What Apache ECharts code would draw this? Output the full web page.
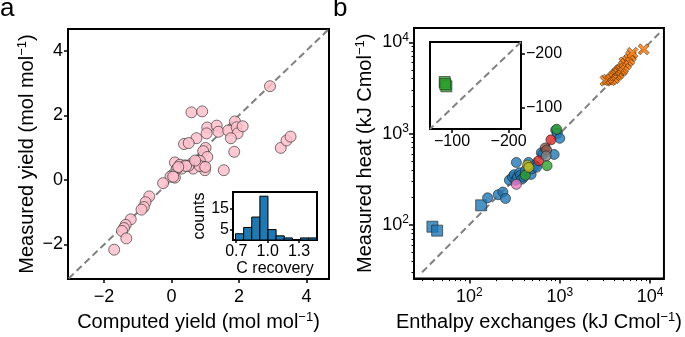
<!DOCTYPE html>
<html><head><meta charset="utf-8">
<script src="https://cdn.jsdelivr.net/npm/echarts@6/dist/echarts.min.js"></script>
<style>html,body{margin:0;padding:0;background:#fff}#c{width:685px;height:337px}</style>
</head><body><div id="c"></div>
<script>
// ---------- Panel a data ----------
const yieldPoints = [
 [2.92,2.90],[0.59,2.09],[0.91,2.12],[1.88,1.81],[1.06,1.62],[1.34,1.68],[1.39,1.49],[1.04,1.44],
 [1.68,1.53],[1.93,1.63],[1.96,1.44],[2.11,1.66],[1.76,1.29],[0.74,1.29],[0.37,1.11],[0.51,1.14],
 [1.01,0.99],[0.94,0.89],[1.86,0.87],[1.06,0.71],[3.24,0.99],[3.41,1.22],[3.53,1.34],[1.55,0.30],
 [0.10,0.54],[0.25,0.47],[0.40,0.45],[0.59,0.50],[0.74,0.54],[0.84,0.59],[0.94,0.40],[0.99,0.30],
 [0.64,0.35],[0.50,0.43],[0.30,0.35],[0.15,0.33],[0.03,0.15],[-0.03,0.10],[0.10,0.07],[-0.25,-0.10],
 [-0.66,-0.51],[-0.77,-0.69],[-0.82,-0.84],[-0.89,-0.92],[-1.21,-1.22],[-1.36,-1.39],[-1.41,-1.49],
 [-1.47,-1.58],[-1.34,-1.81],[-1.70,-2.16],[0.43,0.43],[0.84,0.43],[0.70,0.60],[1.00,0.40],[0.20,0.40],[0.05,0.10]
];
const aTicks = [-2, 0, 2, 4];
const aRange = [-3.07, 4.67];
const aDiagonal = [-3.05, 4.64];

// inset histogram (C recovery)
const histEdges = [0.693,0.7705,0.848,0.9255,1.003,1.0805,1.158,1.2355,1.313,1.3905,1.468];
const histCounts = [3, 6, 11, 21, 5, 2, 1, 0, 1, 1];
const histXTicks = [0.7, 1.0, 1.3];
const histYTicks = [5, 15];
const histXRange = [0.669, 1.471];
const histYRange = [0, 23];

// ---------- Panel b data ----------
const blueCircles = [[159,197],[208,213],[235,228],[251,194],[277,308],[300,333],[313,354],[326,308],[331,482],
 [340,333],[359,371],[368,348],[380,316],[400,333],[416,393],[451,482],[482,356],[490,410],[531,444],[553,427],
 [625,615],[650,592],[866,590],[902,1089],[940,1003],[1000,887]];
const blueSquares = [[39,95],[44,86],[135,163]];
const redCircles = [[798,853],[586,502]];
const brownCircles = [[690,695],[715,660]];
const greyCircles = [[707,568]];
const greenCircles = [[724,444],[925,1114],[416,348]];
const oliveCircles = [[440,451],[455,425]];
const pinkCircles = [[331,277]];
const orangeCrosses = [[3200,3800],[3400,3900],[3600,3850],[3750,3950],[3900,4180],[4000,4050],[4100,4350],
 [4240,4530],[4300,4400],[4400,4700],[4500,4600],[4595,4910],[4700,5000],[4850,4950],[4990,5200],[5100,5500],
 [5200,6030],[5400,5800],[5650,6270],[5900,6500],[6120,7080],[6380,7690],[8475,8400]];
const bMajorTicks = [100, 1000, 10000];
const bMinorTicks = [30,40,50,60,70,80,90,200,300,400,500,600,700,800,900,2000,3000,4000,5000,6000,7000,8000,9000];
const bXRange = [24.4, 14200];
const bYRange = [25.6, 14400];
const bDiagonal = [30, 12600];

// inset of panel b
const insetSquares = [[-87,-148],[-90,-140],[-88,-144]];
const insetTicks = [-100, -200];
const insetRange = [-222, -61];

// ---------- styling ----------
const FONT = 'Liberation Sans';
const minus = v => String(v).replace('-', '\u2212');
const supRich = (size) => ({ s: { fontSize: size, fontFamily: FONT, color: '#000', padding: [0,0,9,0] } });

function axisBase(extra) {
  const o = {
    type: 'value', splitLine: { show: false },
    axisLine: { show: true, onZero: false, lineStyle: { color: '#000', width: 2 } },
    axisTick: { show: true, length: 4, lineStyle: { color: '#000', width: 1.5 } },
    axisLabel: { color: '#000', fontSize: 18, fontFamily: FONT, margin: 6 },
    nameLocation: 'middle',
    nameTextStyle: { color: '#000', fontSize: 20, fontFamily: FONT }
  };
  for (const k in extra) {
    if (o[k] && typeof o[k] === 'object' && !Array.isArray(o[k]) && typeof extra[k] === 'object' && !Array.isArray(extra[k]))
      o[k] = Object.assign({}, o[k], extra[k]);
    else o[k] = extra[k];
  }
  return o;
}

const powFmt = v => '{b|10}{s|' + Math.round(Math.log10(v)) + '}';
const powRich = { b: { fontSize: 18, fontFamily: FONT, color: '#000' }, s: { fontSize: 12, fontFamily: FONT, color: '#000', padding: [0,0,9,0] } };

const xAxes = [
  axisBase({ gridIndex: 0, min: aRange[0], max: aRange[1],
    axisLabel: { customValues: aTicks, formatter: minus, margin: 9 },
    axisTick: { customValues: aTicks },
    name: 'Computed yield (mol mol{s|\u22121})', nameGap: 25,
    nameTextStyle: { rich: supRich(13) } }),
  axisBase({ gridIndex: 1, min: histXRange[0], max: histXRange[1],
    axisLabel: { customValues: histXTicks, formatter: v => v.toFixed(1), fontSize: 16, margin: 4 },
    axisTick: { customValues: histXTicks, length: 3 },
    name: 'C recovery', nameGap: 20, nameTextStyle: { fontSize: 16 } }),
  axisBase({ gridIndex: 2, type: 'log', logBase: 10, min: bXRange[0], max: bXRange[1],
    axisLabel: { customValues: bMajorTicks, formatter: powFmt, rich: powRich, margin: 8 },
    axisTick: { customValues: bMajorTicks, length: 5 },
    name: 'Enthalpy exchanges (kJ Cmol{s|\u22121})', nameGap: 27,
    nameTextStyle: { rich: supRich(13) } }),
  axisBase({ gridIndex: 2, type: 'log', logBase: 10, min: bXRange[0], max: bXRange[1], position: 'bottom',
    axisLine: { show: false }, axisLabel: { show: false },
    axisTick: { customValues: bMinorTicks, length: 2.5, lineStyle: { width: 1 } } }),
  axisBase({ gridIndex: 3, min: insetRange[0], max: insetRange[1], inverse: true,
    axisLabel: { customValues: insetTicks, formatter: minus, fontSize: 16, margin: 5 },
    axisTick: { customValues: insetTicks } })
];

const yAxes = [
  axisBase({ gridIndex: 0, min: aRange[0], max: aRange[1],
    axisLabel: { customValues: aTicks, formatter: minus, margin: 5 },
    axisTick: { customValues: aTicks },
    name: 'Measured yield (mol mol{s|\u22121})', nameGap: 30,
    nameTextStyle: { rich: supRich(13) } }),
  axisBase({ gridIndex: 1, min: histYRange[0], max: histYRange[1],
    axisLabel: { customValues: histYTicks, fontSize: 16, margin: 4 },
    axisTick: { customValues: histYTicks, length: 3 },
    name: 'counts', nameGap: 24, nameTextStyle: { fontSize: 16 } }),
  axisBase({ gridIndex: 2, type: 'log', logBase: 10, min: bYRange[0], max: bYRange[1],
    axisLabel: { customValues: bMajorTicks, formatter: powFmt, rich: powRich, margin: 5 },
    axisTick: { customValues: bMajorTicks, length: 5 },
    name: 'Measured heat (kJ Cmol{s|\u22121})', nameGap: 38,
    nameTextStyle: { rich: supRich(13) } }),
  axisBase({ gridIndex: 2, type: 'log', logBase: 10, min: bYRange[0], max: bYRange[1], position: 'left',
    axisLine: { show: false }, axisLabel: { show: false },
    axisTick: { customValues: bMinorTicks, length: 2.5, lineStyle: { width: 1 } } }),
  axisBase({ gridIndex: 3, min: insetRange[0], max: insetRange[1], inverse: true, position: 'right',
    axisLabel: { customValues: insetTicks, formatter: minus, fontSize: 16, margin: 5 },
    axisTick: { customValues: insetTicks } })
];

const gridStyle = { show: true, borderColor: '#000', borderWidth: 2, backgroundColor: '#fff', containLabel: false };
const grids = [
  Object.assign({ left: 68, top: 29, width: 261, height: 258 }, gridStyle),
  Object.assign({ left: 233, top: 192, width: 84, height: 48, z: 5 }, gridStyle),
  Object.assign({ left: 414, top: 28, width: 260, height: 259 }, gridStyle),
  Object.assign({ left: 430, top: 42, width: 91, height: 87, z: 5 }, gridStyle)
];

const dash = { type: [7, 4], color: '#808080', width: 2 };
const diag = (xi, yi, ends) => ({ type: 'line', xAxisIndex: xi, yAxisIndex: yi, data: ends.map(v => [v, v]),
  symbol: 'none', silent: true, lineStyle: dash, z: 1, animation: false });

const circ = (data, color, size) => ({ type: 'scatter', xAxisIndex: 2, yAxisIndex: 2, data, symbol: 'circle',
  symbolSize: size || 10, itemStyle: { color, opacity: 0.8, borderColor: '#222', borderWidth: 0.8 }, z: 3 });

const XPATH = 'path://M0,2L2,0L5,3L8,0L10,2L7,5L10,8L8,10L5,7L2,10L0,8L3,5Z';

const option = {
  animation: false,
  backgroundColor: '#fff',
  grid: grids,
  xAxis: xAxes,
  yAxis: yAxes,
  graphic: [
    { type: 'text', left: 0, top: -4, style: { text: 'a', font: '26px "Liberation Sans"', fill: '#000' } },
    { type: 'text', left: 333, top: -4, style: { text: 'b', font: '26px "Liberation Sans"', fill: '#000' } }
  ],
  series: [
    diag(0, 0, aDiagonal),
    { type: 'scatter', xAxisIndex: 0, yAxisIndex: 0, data: yieldPoints, symbolSize: 11,
      itemStyle: { color: '#ffc0cb', opacity: 0.85, borderColor: '#333', borderWidth: 0.8 }, z: 3 },
    { type: 'custom', xAxisIndex: 1, yAxisIndex: 1, z: 6,
      data: histCounts.map((c, i) => [histEdges[i], histEdges[i + 1], c]),
      renderItem: (params, api) => {
        const p0 = api.coord([api.value(0), api.value(2)]);
        const p1 = api.coord([api.value(1), 0]);
        return { type: 'rect', shape: { x: p0[0], y: p0[1], width: p1[0] - p0[0], height: p1[1] - p0[1] },
          style: { fill: '#1f77b4', stroke: '#000', lineWidth: 1 } };
      } },
    diag(2, 2, bDiagonal),
    { type: 'scatter', xAxisIndex: 2, yAxisIndex: 2, data: blueSquares, symbol: 'rect', symbolSize: 11,
      itemStyle: { color: '#1f77b4', opacity: 0.8, borderColor: '#222', borderWidth: 0.8 }, z: 3 },
    circ(blueCircles, '#1f77b4'),
    circ(redCircles, '#d62728'),
    circ(brownCircles, '#8c564b'),
    circ(greyCircles, '#7f7f7f'),
    circ(greenCircles, '#2ca02c'),
    circ(oliveCircles, '#bcbd22'),
    circ(pinkCircles, '#e377c2'),
    { type: 'scatter', xAxisIndex: 2, yAxisIndex: 2, data: orangeCrosses, symbol: XPATH, symbolSize: 11,
      itemStyle: { color: '#ff7f0e', opacity: 0.85, borderColor: '#222', borderWidth: 0.6 }, z: 3 },
    Object.assign(diag(4, 4, insetRange), { z: 6 }),
    { type: 'scatter', xAxisIndex: 4, yAxisIndex: 4, data: insetSquares, symbol: 'rect', symbolSize: 11, z: 7,
      itemStyle: { color: '#2ca02c', opacity: 0.8, borderColor: '#222', borderWidth: 0.8 } }
  ]
};

const chart = echarts.init(document.getElementById('c'), null, { renderer: 'canvas' });
chart.setOption(option);
</script>
</body></html>
